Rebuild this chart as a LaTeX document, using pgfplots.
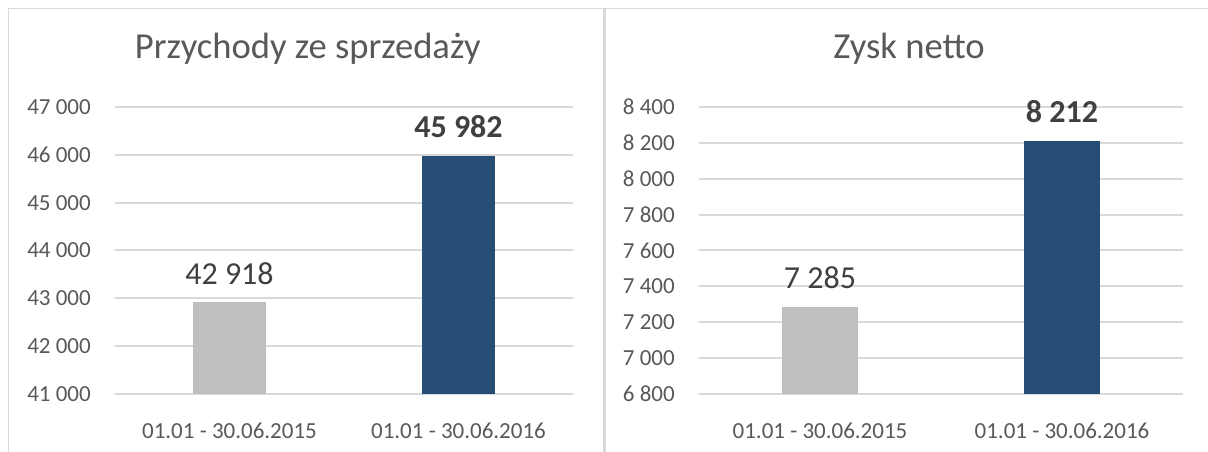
\documentclass[border=0pt]{standalone}
\usepackage{fontspec}
\setmainfont{Carlito}
\usepackage{pgfplots}
\pgfplotsset{compat=1.18}
\definecolor{gridc}{HTML}{D9D9D9}
\definecolor{txt}{HTML}{595959}
\definecolor{lbl}{HTML}{404040}
\definecolor{barg}{HTML}{BFBFBF}
\definecolor{barb}{HTML}{264D73}
\pgfplotsset{
 panel/.style={
  scale only axis, anchor=south west,
  xmin=0, xmax=2,
  axis line style={draw=none}, major tick style={draw=none}, major tick length=0pt,
  ymajorgrids, grid style={gridc, line width=2pt},
  xtick={0.5,1.5}, xticklabels={01.01 - 30.06.2015, 01.01 - 30.06.2016},
  ticklabel style={font=\fontsize{23}{27}\selectfont, text=txt, inner sep=0pt},
  xticklabel style={anchor=center, yshift=-37pt},
  yticklabel style={anchor=east, xshift=-24pt},
  scaled y ticks=false,
  /pgf/number format/assume math mode=true,
  /pgf/number format/1000 sep={\ },
  ybar, bar shift=0pt, clip=true,
  nodes near coords, point meta=explicit symbolic,
  every node near coord/.append style={anchor=center, yshift=29pt, inner sep=0pt, font=\fontsize{32}{36}\selectfont, text=lbl},
  title style={anchor=base, font=\fontsize{36.6}{40}\selectfont, text=txt, inner sep=0pt},
 }
}
\begin{document}
\begin{tikzpicture}
\useasboundingbox (0pt,0pt) rectangle (1208pt,452pt);
\fill[white] (0pt,0pt) rectangle (1208pt,452pt);
\draw[gridc, line width=1pt] (8.5pt,0pt) -- (8.5pt,443.7pt) -- (1208pt,443.7pt);
\draw[gridc, line width=3pt] (604pt,0pt) -- (604pt,443.7pt);

\begin{axis}[panel, at={(115pt,58pt)}, width=458pt, height=287pt,
  ymin=41000, ymax=47000, ytick distance=1000, bar width=72.5pt,
  title={Przychody ze sprzedaży},
  title style={at={(axis description cs:0.421,1)}, yshift=42pt}]
\addplot[fill=barg, draw=none] coordinates {(0.5,42918) [42 918]};
\addplot[fill=barb, draw=none, every node near coord/.append style={font=\fontsize{32}{36}\selectfont\bfseries}] coordinates {(1.5,45982) [45 982]};
\end{axis}

\begin{axis}[panel, at={(699pt,58pt)}, width=484pt, height=287pt,
  ymin=6800, ymax=8400, ytick distance=200, bar width=76pt,
  title={Zysk netto},
  title style={at={(axis description cs:0.434,1)}, yshift=42pt}]
\addplot[fill=barg, draw=none] coordinates {(0.5,7285) [7 285]};
\addplot[fill=barb, draw=none, every node near coord/.append style={font=\fontsize{32}{36}\selectfont\bfseries}] coordinates {(1.5,8212) [8 212]};
\end{axis}
\end{tikzpicture}
\end{document}
